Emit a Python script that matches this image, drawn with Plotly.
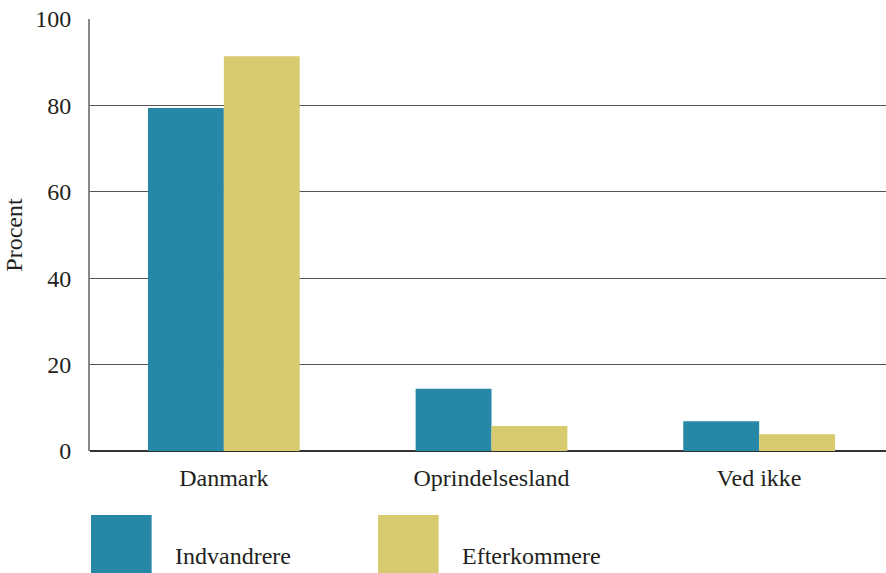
import plotly.graph_objects as go

categories = ["Danmark", "Oprindelsesland", "Ved ikke"]
indvandrere = [79.4, 14.4, 6.9]
efterkommere = [91.4, 5.8, 3.9]
series_names = ["Indvandrere", "Efterkommere"]
colors = ["#2687A6", "#D8CA6E"]
y_ticks = [0, 20, 40, 60, 80, 100]

FONT = "Liberation Serif, Times New Roman, serif"
TXT = "#231F20"
FS = 24

fig = go.Figure()
for name, vals, c in zip(series_names, [indvandrere, efterkommere], colors):
    fig.add_trace(go.Bar(x=categories, y=vals, name=name, marker=dict(color=c, line=dict(width=0))))

# plot area extends slightly past the right edge of the 886px window, as in the reference
fig.update_layout(
    width=893, height=573,
    margin=dict(l=90, r=0, t=19, b=122, autoexpand=False),
    barmode="group", bargap=0.433, bargroupgap=0,
    plot_bgcolor="white", paper_bgcolor="white",
    showlegend=False,
    font=dict(family=FONT, size=FS, color=TXT),
)
fig.update_xaxes(showgrid=False, showline=False, ticks="", tickfont=dict(size=FS),
                 ticklabelstandoff=10, automargin=False)
fig.update_yaxes(
    range=[0, 100], tickvals=y_ticks, showgrid=True, gridcolor="#555555", gridwidth=1,
    zeroline=True, zerolinecolor="#333333", zerolinewidth=2,
    showline=True, linecolor="#888888", linewidth=2, ticks="", ticklabelstandoff=12,
    tickfont=dict(size=FS), automargin=False,
    title=dict(text="Procent", font=dict(size=FS), standoff=6),
)

# legend drawn as large swatches
legend_x = [0.00125, 0.3587]
for nm, c, lx in zip(series_names, colors, legend_x):
    fig.add_shape(type="rect", xref="paper", yref="paper", x0=lx, x1=lx + 0.0755,
                  y0=-0.29, y1=-0.148, fillcolor=c, line=dict(width=0), layer="above")
    fig.add_annotation(xref="paper", yref="paper", x=lx + 0.102, y=-0.243, text=nm,
                       showarrow=False, xanchor="left", yanchor="middle", font=dict(size=FS, color=TXT))

fig.write_html("out.html", config={"displayModeBar": False},
               post_script="document.body.style.margin='0';document.body.style.overflow='hidden';")
